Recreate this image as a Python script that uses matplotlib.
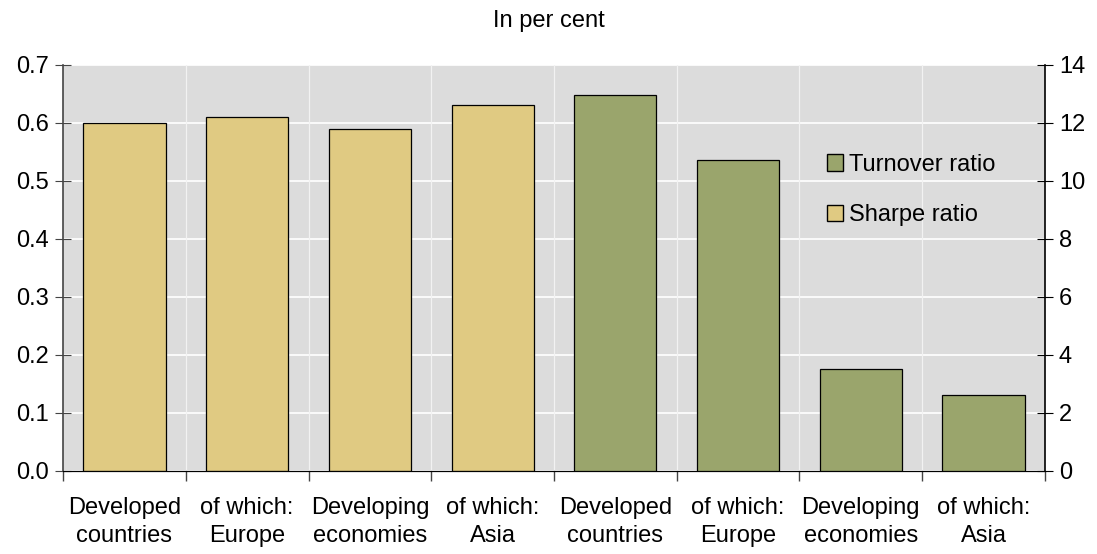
import numpy as np
import matplotlib
matplotlib.use("Agg")
import matplotlib.pyplot as plt
from matplotlib.patches import Patch

plt.rcParams['font.family'] = ['Liberation Sans', 'DejaVu Sans']

# Data
categories = ["Developed\ncountries", "of which:\nEurope", "Developing\neconomies", "of which:\nAsia",
              "Developed\ncountries", "of which:\nEurope", "Developing\neconomies", "of which:\nAsia"]
sharpe = [0.60, 0.61, 0.59, 0.63]
turnover = [12.95, 10.72, 3.52, 2.62]

sand = "#E0CA82"
green = "#9AA56C"
fs = 17

fig = plt.figure(figsize=(10.97, 5.54), dpi=100)
ax = fig.add_axes([0.0575, 0.15, 0.895, 0.733])
ax2 = ax.twinx()

x_s = np.arange(len(sharpe))
x_t = np.arange(len(turnover)) + len(sharpe)
w = 0.67

ax.set_facecolor("#DCDCDC")
ax.bar(x_s, sharpe, width=w, color=sand, edgecolor="black", linewidth=0.9, zorder=3)
ax2.bar(x_t, turnover, width=w, color=green, edgecolor="black", linewidth=0.9, zorder=3)

ax.set_xlim(-0.5, len(categories) - 0.5)
ax.set_ylim(0, 0.7)
ax2.set_ylim(0, 14)
ax.set_yticks(np.arange(0, 0.71, 0.1))
ax.set_yticklabels([f"{v:.1f}" for v in np.arange(0, 0.71, 0.1)])
ax2.set_yticks(np.arange(0, 15, 2))

# boundaries between categories as ticks and grid
bounds = np.arange(-0.5, len(categories), 1.0)
ax.set_xticks(bounds)
ax.set_xticklabels([])
ax.set_xticks(np.arange(len(categories)), minor=True)
ax.set_xticklabels(categories, minor=True, fontsize=fs, linespacing=1.35)
ax.tick_params(axis="x", which="minor", length=0, pad=19)
ax.tick_params(axis="x", which="major", length=7, direction="out", width=1, color="#444444")

for b in bounds[1:-1]:
    ax.axvline(b, color="#F2F2F2", linewidth=0.9, zorder=1)
ax.yaxis.grid(True, color="white", linewidth=1.2, zorder=1)
ax.set_axisbelow(True)

ax.tick_params(axis="y", direction="inout", length=12, labelsize=fs, pad=4, color="#444444")
ax2.tick_params(axis="y", direction="inout", length=12, labelsize=fs, pad=4)

for s in ["top"]:
    ax.spines[s].set_visible(False)
    ax2.spines[s].set_visible(False)
ax.spines["left"].set_color("#444444")
ax.spines["left"].set_linewidth(1.2)
ax2.spines["right"].set_color("black")
ax2.spines["right"].set_linewidth(1.2)
ax2.spines["left"].set_visible(False)
ax.spines["right"].set_visible(False)
ax.spines["bottom"].set_color("black")

handles = [Patch(facecolor=green, edgecolor="black", label="Turnover ratio"),
           Patch(facecolor=sand, edgecolor="black", label="Sharpe ratio")]
ax2.legend(handles=handles, loc="upper left", bbox_to_anchor=(0.756, 0.833), frameon=False,
           fontsize=fs, handlelength=0.7, handleheight=0.7, handletextpad=0.25, labelspacing=1.2)

fig.text(0.5, 0.962, "In per cent", ha="center", va="center", fontsize=fs)

fig.savefig("out.png", dpi=100)
